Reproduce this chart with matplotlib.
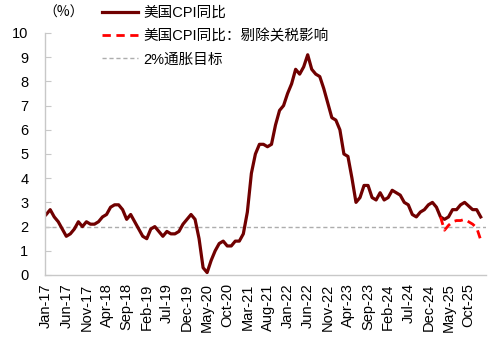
import matplotlib
matplotlib.use("Agg")
import matplotlib.pyplot as plt
import pandas as pd

plt.rcParams['font.family'] = ['Liberation Sans', 'Noto Sans CJK SC', 'DejaVu Sans']

months = pd.date_range("2017-01-01", "2026-01-01", freq="MS")

cpi_yoy = [
    # 2017
    2.5, 2.7, 2.4, 2.2, 1.9, 1.6, 1.7, 1.9, 2.2, 2.0, 2.2, 2.1,
    # 2018
    2.1, 2.2, 2.4, 2.5, 2.8, 2.9, 2.9, 2.7, 2.3, 2.5, 2.2, 1.9,
    # 2019
    1.6, 1.5, 1.9, 2.0, 1.8, 1.6, 1.8, 1.7, 1.7, 1.8, 2.1, 2.3,
    # 2020
    2.5, 2.3, 1.5, 0.3, 0.1, 0.6, 1.0, 1.3, 1.4, 1.2, 1.2, 1.4,
    # 2021
    1.4, 1.7, 2.6, 4.2, 5.0, 5.4, 5.4, 5.3, 5.4, 6.2, 6.8, 7.0,
    # 2022
    7.5, 7.9, 8.5, 8.3, 8.6, 9.1, 8.5, 8.3, 8.2, 7.7, 7.1, 6.5,
    # 2023
    6.4, 6.0, 5.0, 4.9, 4.0, 3.0, 3.2, 3.7, 3.7, 3.2, 3.1, 3.4,
    # 2024
    3.1, 3.2, 3.5, 3.4, 3.3, 3.0, 2.9, 2.5, 2.4, 2.6, 2.7, 2.9,
    # 2025
    3.0, 2.8, 2.4, 2.3, 2.4, 2.7, 2.7, 2.9, 3.0, 2.85, 2.7, 2.7,
    # 2026
    2.4,
]

# ex-tariff series starts Mar-25
ex_tariff_start = "2025-03-01"
cpi_ex_tariff = [2.4, 1.85, 2.05, 2.2, 2.25, 2.25, 2.3, 2.2, 2.1, 1.95, 1.45]

target = 2.0
tick_step = 5

x = list(range(len(months)))
x_ex = x[months.get_loc(pd.Timestamp(ex_tariff_start)):]

fig = plt.figure(figsize=(5.02, 3.39), dpi=100)
ax = fig.add_axes([0.0896, 0.1888, 0.8784, 0.7139])

l1, = ax.plot(x, cpi_yoy, color='#700000', lw=2.3, solid_joinstyle='round',
              label='美国CPI同比')
l2, = ax.plot(x_ex, cpi_ex_tariff, color='#FF0000', lw=2.0, ls=(0, (3, 2)),
              label='美国CPI同比：剔除关税影响')
l3 = ax.axhline(target, color='#ADADAD', lw=1.0, ls=(0, (3, 2)), zorder=0,
                label='2%通胀目标')

ax.set_xlim(-0.3, len(months) + 0.3)
ax.set_ylim(0, 10)
ax.set_yticks(range(0, 11))
ax.set_xticks(x[::tick_step])
ax.set_xticklabels([m.strftime('%b-%y') for m in months[::tick_step]],
                   rotation=90)

for s in ['top', 'right']:
    ax.spines[s].set_visible(False)
for s in ['left', 'bottom']:
    ax.spines[s].set_color('#C8C8C8')
    ax.spines[s].set_linewidth(1.0)

ax.tick_params(axis='y', direction='in', length=4, color='#C8C8C8',
               labelsize=10.5, pad=12)
ax.tick_params(axis='x', length=0, labelsize=10.5, pad=6)

fig.text(0.086, 0.962, '（%）', fontsize=10, ha='left', va='center',
         family=['Noto Sans CJK SC', 'Liberation Sans'])

fig.legend(handles=[l1, l2, l3], loc='upper left',
           bbox_to_anchor=(0.203, 0.982), frameon=False, fontsize=10.5,
           borderaxespad=0, borderpad=0, handlelength=2.5,
           handletextpad=0.35, labelspacing=0.62)

fig.savefig('out.png', dpi=100)
